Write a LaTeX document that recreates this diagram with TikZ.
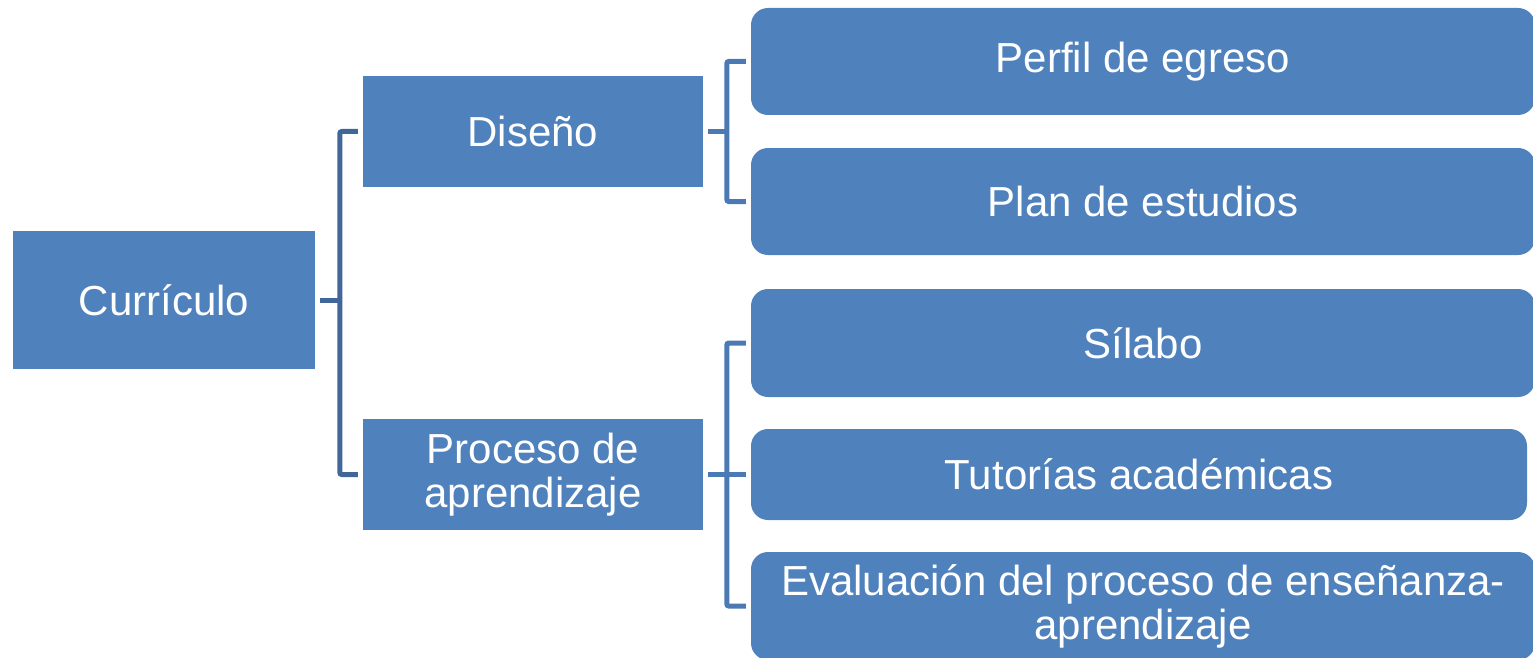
\documentclass[tikz,border=0pt]{standalone}
\usepackage{fontspec}
\setmainfont{Liberation Sans}
\definecolor{boxblue}{HTML}{4F81BD}
\definecolor{lineA}{HTML}{41669A}
\definecolor{lineB}{HTML}{4A79B4}
\tikzset{
  topbox/.style={fill=boxblue,text=white,align=center,inner sep=0pt},
  leafbox/.style={topbox,rounded corners=17pt},
  brace/.style={line width=5pt,rounded corners=2pt,line cap=butt}
}
\begin{document}
\begin{tikzpicture}[x=1pt,y=-1pt,font=\fontsize{42}{44}\selectfont]
\clip (0,0) rectangle (1533,658);
\node [topbox,minimum width=302pt,minimum height=138pt] (curr) at (164,300) {Currículo};
\node [topbox,minimum width=340pt,minimum height=111pt] (dis) at (533,131.5) {Diseño};
\node [topbox,minimum width=340pt,minimum height=111pt] (proc) at (533,474.5) {Proceso de\\aprendizaje};
\node [leafbox,minimum width=784pt,minimum height=107pt] (perfil) at (1143,61.5) {Perfil de egreso};
\node [leafbox,minimum width=784pt,minimum height=107pt] (plan) at (1143,201.5) {Plan de estudios};
\node [leafbox,minimum width=784pt,minimum height=108pt] (silabo) at (1143,343) {Sílabo};
\node [leafbox,minimum width=776pt,minimum height=91pt] (tut) at (1139,474.5) {Tutorías académicas};
\node [leafbox,minimum width=784pt,minimum height=108pt] (eval) at (1143,606) {Evaluación del proceso de enseñanza-\\aprendizaje};
% Currículo
\draw [brace,lineA] ([xshift=5pt]curr.east) -- ++(20,0);
\draw [brace,lineA] ([xshift=-5pt]dis.west) -| ([xshift=-23pt]proc.west) -- ([xshift=-5pt]proc.west);
% Diseño
\draw [brace,lineB] ([xshift=5pt]dis.east) -- ++(19,0);
\draw [brace,lineB] ([xshift=-5pt]perfil.west) -| ([xshift=-24pt]plan.west) -- ([xshift=-5pt]plan.west);
% Proceso de aprendizaje
\draw [brace,lineB] ([xshift=5pt]proc.east) -- ([xshift=-5pt]tut.west);
\draw [brace,lineB] ([xshift=-5pt]silabo.west) -| ([xshift=-24pt]eval.west) -- ([xshift=-5pt]eval.west);
\end{tikzpicture}
\end{document}
